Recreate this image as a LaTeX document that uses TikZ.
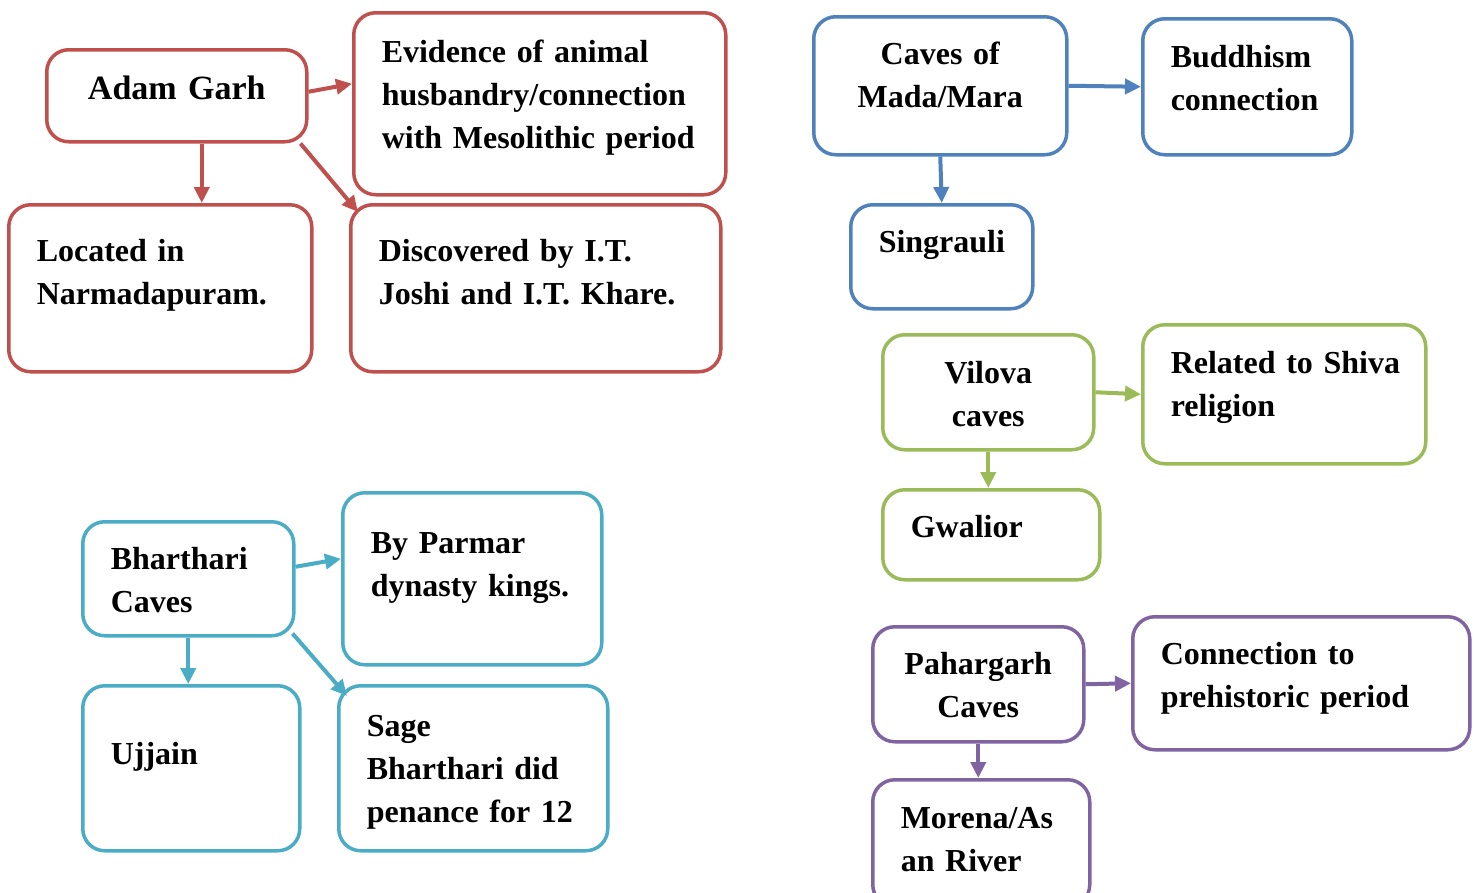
\documentclass[tikz,border=0pt]{standalone}
\usepackage{fontspec}
\setmainfont{Liberation Serif}
\usetikzlibrary{arrows.meta, positioning}
\definecolor{agred}{HTML}{C0504D}
\definecolor{agblue}{HTML}{4F81BD}
\definecolor{aggreen}{HTML}{9BBB59}
\definecolor{agcyan}{HTML}{4BACC6}
\definecolor{agpurple}{HTML}{8064A2}
\hyphenpenalty=10000

\begin{document}
\begin{tikzpicture}[
  x=1pt, y=-1pt,
  box/.style={rectangle, rounded corners=22pt, line width=3.5pt,
              fill=white, anchor=north west,
              inner xsep=28pt, inner ysep=0pt, align=left,
              font=\fontsize{32}{43}\selectfont\bfseries},
  redbox/.style={box, draw=agred},
  bluebox/.style={box, draw=agblue},
  greenbox/.style={box, draw=aggreen},
  cyanbox/.style={box, draw=agcyan},
  purplebox/.style={box, draw=agpurple},
  arr/.style={-{Triangle[length=16pt,width=15pt]}, line width=4pt},
  redarr/.style={arr, draw=agred, fill=agred},
  bluearr/.style={arr, draw=agblue, fill=agblue},
  greenarr/.style={arr, draw=aggreen, fill=aggreen},
  cyanarr/.style={arr, draw=agcyan, fill=agcyan},
  purplearr/.style={arr, draw=agpurple, fill=agpurple}
]
  \useasboundingbox (0,0) rectangle (1475,892);

  % Adam Garh
  \node[redbox, text width=204pt, align=center,
        text height=50pt, text depth=42pt,
        font=\fontsize{34}{43}\selectfont\bfseries] (adam) at (45,48)
    {Adam Garh};
  \node[redbox, text width=316pt, text height=50pt, text depth=132pt]
    (evid) at (352,11)
    {Evidence of animal\\husbandry/connection\\with Mesolithic period};
  \node[redbox, text width=247pt, text height=57pt, text depth=110pt]
    (loc) at (7,203) {Located in\\Narmadapuram.};
  \node[redbox, text width=314pt, text height=57pt, text depth=110pt]
    (disc) at (349,203) {Discovered by I.T.\\Joshi and I.T. Khare.};

  \draw[redarr] ([yshift=4pt]adam.east) -- ([yshift=20pt]evid.west);
  \draw[redarr] ([xshift=25pt]adam.south)
    -- ([xshift=25pt]adam.south |- loc.north);
  \draw[redarr] ([xshift=-8pt]adam.south east)
    -- ([xshift=9pt,yshift=-9pt]disc.north west);

  % Mada/Mara
  \node[bluebox, text width=197pt, align=center,
        text height=48pt, text depth=90pt] (caves) at (812,15)
    {Caves of\\Mada/Mara};
  \node[bluebox, text width=153pt, text height=49pt, text depth=87pt]
    (budd) at (1141,17) {Buddhism\\connection};
  \node[bluebox, text width=126pt, align=center,
        text height=48pt, text depth=56pt] (sing) at (849,203)
    {Singrauli};

  \draw[bluearr] (caves.east) -- (budd.west);
  \draw[bluearr] (caves.south) -- (sing.north);

  % Vilova
  \node[greenbox, text width=155pt, align=center,
        text height=49pt, text depth=66pt] (vilova) at (881,333)
    {Vilova\\caves};
  \node[greenbox, text width=227pt, text height=49pt, text depth=90pt]
    (shiva) at (1141,323) {\mbox{Related to Shiva}\\religion};
  \node[greenbox, text width=161pt, text height=48pt, text depth=42pt]
    (gwal) at (881,488) {Gwalior};

  \draw[greenarr] (vilova.east) -- (shiva.west);
  \draw[greenarr] (vilova.south) -- (vilova.south |- gwal.north);

  % Bharthari
  \node[cyanbox, text width=155pt, text height=48pt, text depth=66pt]
    (bharth) at (81,520) {Bharthari\\Caves};
  \node[cyanbox, text width=203pt, text height=61pt, text depth=111pt]
    (parmar) at (341,491) {By Parmar\\dynasty kings.};
  \node[cyanbox, text width=161pt, text height=79pt, text depth=86pt]
    (ujjain) at (81,684) {Ujjain};
  \node[cyanbox, text width=213pt, text height=51pt, text depth=114pt]
    (sage) at (337,684) {Sage\\Bharthari did\\penance for 12};

  \draw[cyanarr] ([yshift=12pt]bharth.east) -- ([yshift=20pt]parmar.west);
  \draw[cyanarr] (bharth.south) -- (bharth.south |- ujjain.north);
  \draw[cyanarr] ([xshift=-3pt,yshift=4pt]bharth.south east)
    -- ([xshift=10pt,yshift=-12pt]sage.north west);

  % Pahargarh
  \node[purplebox, text width=155pt, align=center,
        text height=48pt, text depth=67pt] (pahar) at (871,625)
    {Pahargarh\\Caves};
  \node[purplebox, text width=281pt, text height=48pt, text depth=85pt]
    (prehist) at (1131,615) {Connection to\\prehistoric period};
  \node[purplebox, text width=161pt, text height=49pt, text depth=78pt]
    (morena) at (871,778) {Morena/As\\an River};

  \draw[purplearr] (pahar.east) -- (prehist.west);
  \draw[purplearr] (pahar.south) -- (pahar.south |- morena.north);
\end{tikzpicture}
\end{document}
